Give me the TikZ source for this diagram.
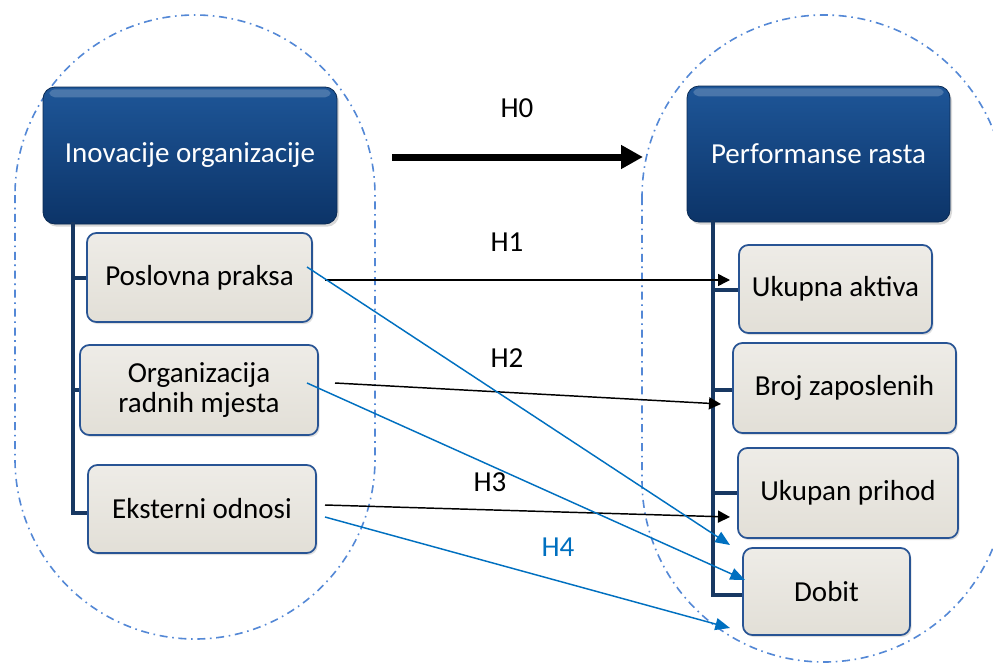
\documentclass[tikz,border=0pt]{standalone}
\usepackage{fontspec}
\setmainfont{Carlito}
\usetikzlibrary{arrows.meta,shadows}
\definecolor{navy}{RGB}{24,56,98}
\definecolor{hdtop}{RGB}{30,86,152}
\definecolor{hdbot}{RGB}{12,52,104}
\definecolor{boxfill}{RGB}{226,223,215}
\definecolor{boxtop}{RGB}{238,236,231}
\definecolor{boxedge}{RGB}{40,84,148}
\definecolor{stadcol}{RGB}{84,136,214}
\definecolor{hblue}{RGB}{0,112,192}
\newcommand\bxfont{\fontsize{21.75}{22.5}\selectfont}
\begin{document}
\begin{tikzpicture}[x=0.75pt,y=-0.75pt,
 hdr/.style={rectangle, rounded corners=9pt, top color=hdtop, bottom color=hdbot,
   draw=hdbot!80!black, line width=0.6pt, text=white, font=\bxfont,
   drop shadow={opacity=0.3, shadow xshift=1.5pt, shadow yshift=-2pt}},
 leaf/.style={rectangle, rounded corners=7pt, top color=boxtop, bottom color=boxfill,
   draw=boxedge, line width=1.3pt, font=\bxfont, align=center,
   drop shadow={opacity=0.25, shadow xshift=1.2pt, shadow yshift=-1.5pt}},
 trunk/.style={navy, line width=3.6pt},
 hyp/.style={black, line width=1.1pt, -{Triangle[length=9pt,width=9pt]}},
 hypb/.style={hblue, line width=1.1pt, -{Triangle[length=11pt,width=9pt]}},
 stad/.style={stadcol, line width=1.2pt, dash pattern=on 6pt off 3.5pt on 1.2pt off 3.5pt},
 lbl/.style={font=\bxfont, inner sep=0pt}
]
\useasboundingbox (0,0) rectangle (993,664);
\clip (0,0) rectangle (993,664);
\fill[white] (0,0) rectangle (993,664);

% dash-dot groups
\draw[stad, rounded corners=135pt] (15,15) rectangle (375,639);
\draw[stad, rounded corners=136.5pt] (642,15) rectangle (1006,662);

% trunk coordinates
\coordinate (lt) at (73,222);
\coordinate (rt) at (713,220);

% header boxes
\node[hdr, minimum width=220.5pt, minimum height=102.75pt] (io) at (190,155.5) {Inovacije organizacije};
\node[hdr, minimum width=197.25pt, minimum height=102pt] (pf) at (818.5,154) {Performanse rasta};

% leaf boxes (positions only; drawn after trunks)
\path (199.5,277.5) coordinate (ppos) (199,390) coordinate (opos) (202,509) coordinate (epos)
      (835.5,289) coordinate (upos) (844.5,388) coordinate (bpos) (848,493) coordinate (hpos)
      (826.5,591.5) coordinate (dpos);

\draw[trunk] (lt) -- (73,513) -- (88,513);
\draw[trunk] (73,278) -- (90,278);
\draw[trunk] (73,390) -- (84,390);
\draw[trunk] (rt) -- (713,595) -- (746,595);
\draw[trunk] (713,290) -- (742,290);
\draw[trunk] (713,390) -- (736,390);
\draw[trunk] (713,493) -- (741,493);

\node[leaf, minimum width=168.75pt, minimum height=66.75pt] (pr) at (ppos) {Poslovna praksa};
\node[leaf, minimum width=178.5pt, minimum height=67.5pt] (org) at (opos) {Organizacija\\radnih mjesta};
\node[leaf, minimum width=171pt, minimum height=66pt] (eks) at (epos) {Eksterni odnosi};
\node[leaf, minimum width=144.75pt, minimum height=66pt] (ua) at (upos) {Ukupna aktiva};
\node[leaf, minimum width=167.25pt, minimum height=67.5pt] (bz) at (bpos) {Broj zaposlenih};
\node[leaf, minimum width=165pt, minimum height=67.5pt] (up) at (hpos) {Ukupan prihod};
\node[leaf, minimum width=125.25pt, minimum height=65.25pt] (db) at (dpos) {Dobit};

% glossy highlights on headers
\fill[white, opacity=0.2, rounded corners=4pt] ([xshift=5pt,yshift=-2pt]io.north west) rectangle ([xshift=-5pt,yshift=-8pt]io.north east);
\fill[white, opacity=0.2, rounded corners=4pt] ([xshift=5pt,yshift=-2pt]pf.north west) rectangle ([xshift=-5pt,yshift=-8pt]pf.north east);

% connector end points
\coordinate (h0s) at (392,157);  \coordinate (h0e) at (643,157);
\coordinate (h1s) at (325,280);  \coordinate (h1e) at (730,280);
\coordinate (h2s) at (335,383);  \coordinate (h2e) at (721,404);
\coordinate (h3s) at (325,505);  \coordinate (h3e) at (730,517);
\coordinate (b1s) at (307,267);  \coordinate (b1e) at (730,545);
\coordinate (b2s) at (307,383);  \coordinate (b2e) at (745,580);
\coordinate (b3s) at (325,517);  \coordinate (b3e) at (730,628);

\draw[black, line width=5.25pt, -{Triangle[length=16.5pt,width=17pt]}] (h0s) -- (h0e);
\draw[hyp] (h1s) -- (h1e);
\draw[hyp] (h2s) -- (h2e);
\draw[hyp] (h3s) -- (h3e);
\draw[hypb] (b1s) -- (b1e);
\draw[hypb] (b2s) -- (b2e);
\draw[hypb] (b3s) -- (b3e);

% labels
\node[lbl] (l0) at (517,108) {H0};
\node[lbl] (l1) at (507,242) {H1};
\node[lbl] (l2) at (507,358) {H2};
\node[lbl] (l3) at (490,482) {H3};
\node[lbl, text=hblue] (l4) at (558,547) {H4};
\end{tikzpicture}
\end{document}
